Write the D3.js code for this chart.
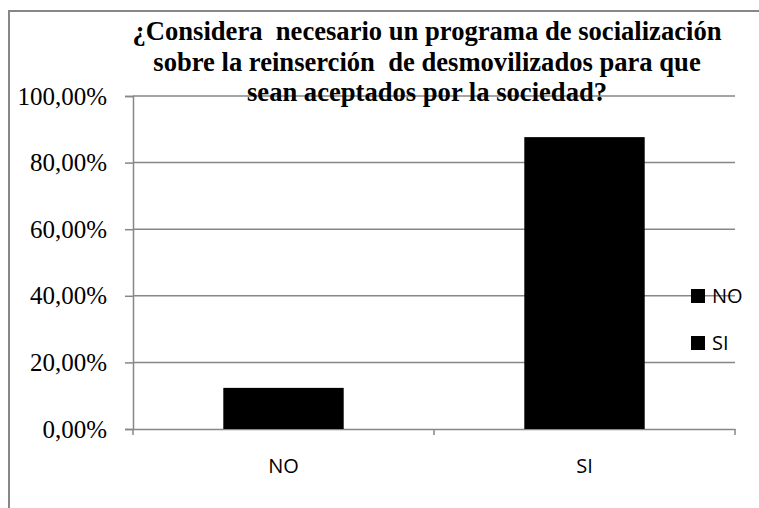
<!DOCTYPE html>
<html><head><meta charset="utf-8">
<script src="https://cdn.jsdelivr.net/npm/d3@7"></script>
<style>body{margin:0;background:#fff}svg{display:block}</style>
</head><body>
<svg id="c" width="759" height="508"></svg>
<script>
const categories = ["NO", "SI"];
const values = [0.1235, 0.8765];
const yTicks = [0, 0.2, 0.4, 0.6, 0.8, 1.0];
const titleLines = [
  "¿Considera  necesario un programa de socialización",
  "sobre la reinserción  de desmovilizados para que",
  "sean aceptados por la sociedad?"
];
const legendItems = ["NO", "SI"];

const svg = d3.select("#c");
const gray = "#878787";
const plot = {left: 133, right: 735, top: 96, bottom: 429};

// chart border
svg.append("path").attr("d", `M9,508 V11 H759`).attr("fill","none").attr("stroke", gray).attr("stroke-width", 2);

const x = d3.scaleBand().domain(categories).range([plot.left, plot.right]).paddingInner(0.6).paddingOuter(0.3);
const xb = d3.scaleBand().domain(categories).range([plot.left, plot.right]);
const y = d3.scaleLinear().domain([0, 1]).range([plot.bottom, plot.top]);
const loc = d3.formatLocale({decimal: ",", thousands: ".", grouping: [3], currency: ["", "€"]});
const fmt = loc.format(".2%");

// gridlines + y ticks
const yAxis = d3.axisLeft(y).tickValues(yTicks).tickFormat(fmt).tickSize(8).tickPadding(18);
const gy = svg.append("g").attr("transform", `translate(${plot.left},0)`).call(yAxis);
gy.select(".domain").attr("stroke", gray).attr("stroke-width", 1.5);
gy.selectAll(".tick line").attr("stroke", gray).attr("stroke-width", 1.5);
gy.selectAll(".tick text").attr("font-family", "'Liberation Serif', 'Times New Roman', serif").attr("font-size", 25).attr("fill", "#000");
svg.append("g").selectAll("line").data(yTicks.filter(d => d > 0)).join("line")
  .attr("x1", plot.left).attr("x2", plot.right).attr("y1", d => y(d)).attr("y2", d => y(d))
  .attr("stroke", gray).attr("stroke-width", 1.5);

// x axis
const gx = svg.append("g").attr("transform", `translate(0,${plot.bottom})`)
  .call(d3.axisBottom(xb).tickSize(0).tickPadding(30));
gx.select(".domain").attr("stroke", gray).attr("stroke-width", 1.5);
gx.selectAll(".tick text").attr("font-family", "'Open Sans', sans-serif").attr("font-size", 20).attr("fill", "#000");
const bounds = [plot.left, ...categories.slice(1).map(c => xb(c)), plot.right];
svg.append("g").selectAll("line").data(bounds).join("line")
  .attr("x1", d => d).attr("x2", d => d).attr("y1", plot.bottom).attr("y2", plot.bottom + 6)
  .attr("stroke", gray).attr("stroke-width", 1.5);

// bars
svg.append("g").selectAll("rect").data(values).join("rect")
  .attr("x", (d, i) => x(categories[i])).attr("width", x.bandwidth())
  .attr("y", d => y(d)).attr("height", d => y(0) - y(d)).attr("fill", "#000");

// title
svg.append("text").attr("font-family", "'Liberation Serif', 'Times New Roman', serif")
  .attr("font-weight", "bold").attr("font-size", 26.6).attr("text-anchor", "middle")
  .attr("fill", "#000")
  .style("white-space", "pre")
  .selectAll("tspan").data(titleLines).join("tspan")
  .attr("x", 427).attr("y", (d, i) => 40 + i * 30.5).text(d => d);

// legend
const lg = svg.append("g").selectAll("g").data(legendItems).join("g")
  .attr("transform", (d, i) => `translate(691,${296 + i * 47})`);
lg.append("rect").attr("x", 0).attr("y", -7).attr("width", 14).attr("height", 14).attr("fill", "#000");
lg.append("text").attr("x", 21).attr("y", 7).attr("font-family", "'Open Sans', sans-serif").attr("font-size", 20).text(d => d);
</script>
</body></html>
